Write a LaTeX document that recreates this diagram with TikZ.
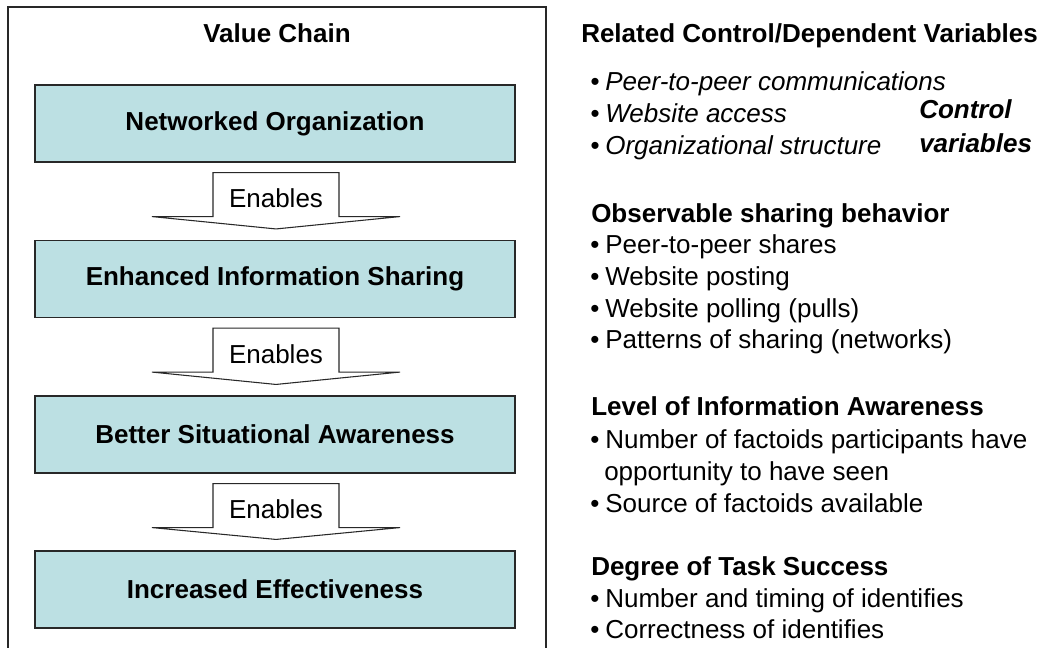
\documentclass[tikz,border=0pt]{standalone}
\usepackage{fontspec}
\setmainfont{Liberation Sans}
\usetikzlibrary{calc}

\definecolor{chainfill}{RGB}{188,224,227}
\definecolor{chainline}{RGB}{40,40,40}

% block arrow between two chain boxes, with its label
\newcommand{\enablesarrow}[3]{%
  \draw[enablearrow] ($(#1.south)+(-62,10)$) -- ($(#1.south)+(-62,54)$) -- ($(#1.south)+(-123,54)$)
    -- ($(#2.north)+(1,-11)$) -- ($(#1.south)+(125,54)$) -- ($(#1.south)+(64,54)$) -- ($(#1.south)+(64,10)$) -- cycle;
  \node[font=\textfontsize,inner sep=0] (#3) at ($(#1.south)+(1,36)$) {Enables};
}
\newcommand{\bul}{\textbullet\hspace{4.5pt}}

\begin{document}
\begin{tikzpicture}[x=0.75pt,y=-0.75pt,
    chainbox/.style={draw=chainline,line width=1.1pt,fill=chainfill,minimum width=360pt,minimum height=57.5pt,inner sep=0,font=\textfontsize\bfseries},
    enablearrow/.style={draw=chainline,line width=0.8pt,fill=white,line join=miter},
    varline/.style={anchor=base west,inner sep=0}]
    \providecommand{\textfontsize}{\fontsize{19.5pt}{23.8pt}\selectfont}
    \useasboundingbox (0,0) rectangle (1047,647);
    % left panel, open at the bottom
    \draw[chainline,line width=0.9pt] (8,650) -- (8,7) -- (546,7) -- (546,650);
    \node[anchor=base,inner sep=0,font=\textfontsize\bfseries] (chaintitle) at (277,42) {Value Chain};
    \node[chainbox] (netorg) at (275,123.5) {Networked Organization};
    \node[chainbox] (infoshare) at (275,279) {Enhanced Information Sharing};
    \node[chainbox] (sitaware) at (275,434.5) {Better Situational Awareness};
    \node[chainbox] (effect) at (275,589.5) {Increased Effectiveness};
    \enablesarrow{netorg}{infoshare}{enables1}
    \enablesarrow{infoshare}{sitaware}{enables2}
    \enablesarrow{sitaware}{effect}{enables3}
    % right column: variables
    \node[varline,font=\textfontsize\bfseries] (vartitle) at (581,42) {Related Control/Dependent Variables};
    \node[varline,font=\textfontsize\itshape] (ctrlpeer) at (590,90) {\bul Peer-to-peer communications};
    \node[varline,font=\textfontsize\itshape] (ctrlweb) at (590,122) {\bul Website access};
    \node[varline,font=\textfontsize\itshape] (ctrlorg) at (590,154) {\bul Organizational structure};
    \node[varline,font=\textfontsize\bfseries\itshape] (ctrl1) at (919,118) {Control};
    \node[varline,font=\textfontsize\bfseries\itshape] (ctrl2) at (919,152) {variables};
    \node[varline,font=\textfontsize\bfseries] (sharehead) at (591,222) {Observable sharing behavior};
    \node[varline,font=\textfontsize] (share1) at (590,253) {\bul Peer-to-peer shares};
    \node[varline,font=\textfontsize] (share2) at (590,285) {\bul Website posting};
    \node[varline,font=\textfontsize] (share3) at (590,317) {\bul Website polling (pulls)};
    \node[varline,font=\textfontsize] (share4) at (590,348) {\bul Patterns of sharing (networks)};
    \node[varline,font=\textfontsize\bfseries] (awarehead) at (591,415) {Level of Information Awareness};
    \node[varline,font=\textfontsize] (aware1) at (590,448) {\bul Number of factoids participants have};
    \node[varline,font=\textfontsize] (aware1b) at (604,480) {opportunity to have seen};
    \node[varline,font=\textfontsize] (aware2) at (590,512) {\bul Source of factoids available};
    \node[varline,font=\textfontsize\bfseries] (taskhead) at (591,575) {Degree of Task Success};
    \node[varline,font=\textfontsize] (task1) at (590,607) {\bul Number and timing of identifies};
    \node[varline,font=\textfontsize] (task2) at (590,638) {\bul Correctness of identifies};
\end{tikzpicture}
\end{document}
